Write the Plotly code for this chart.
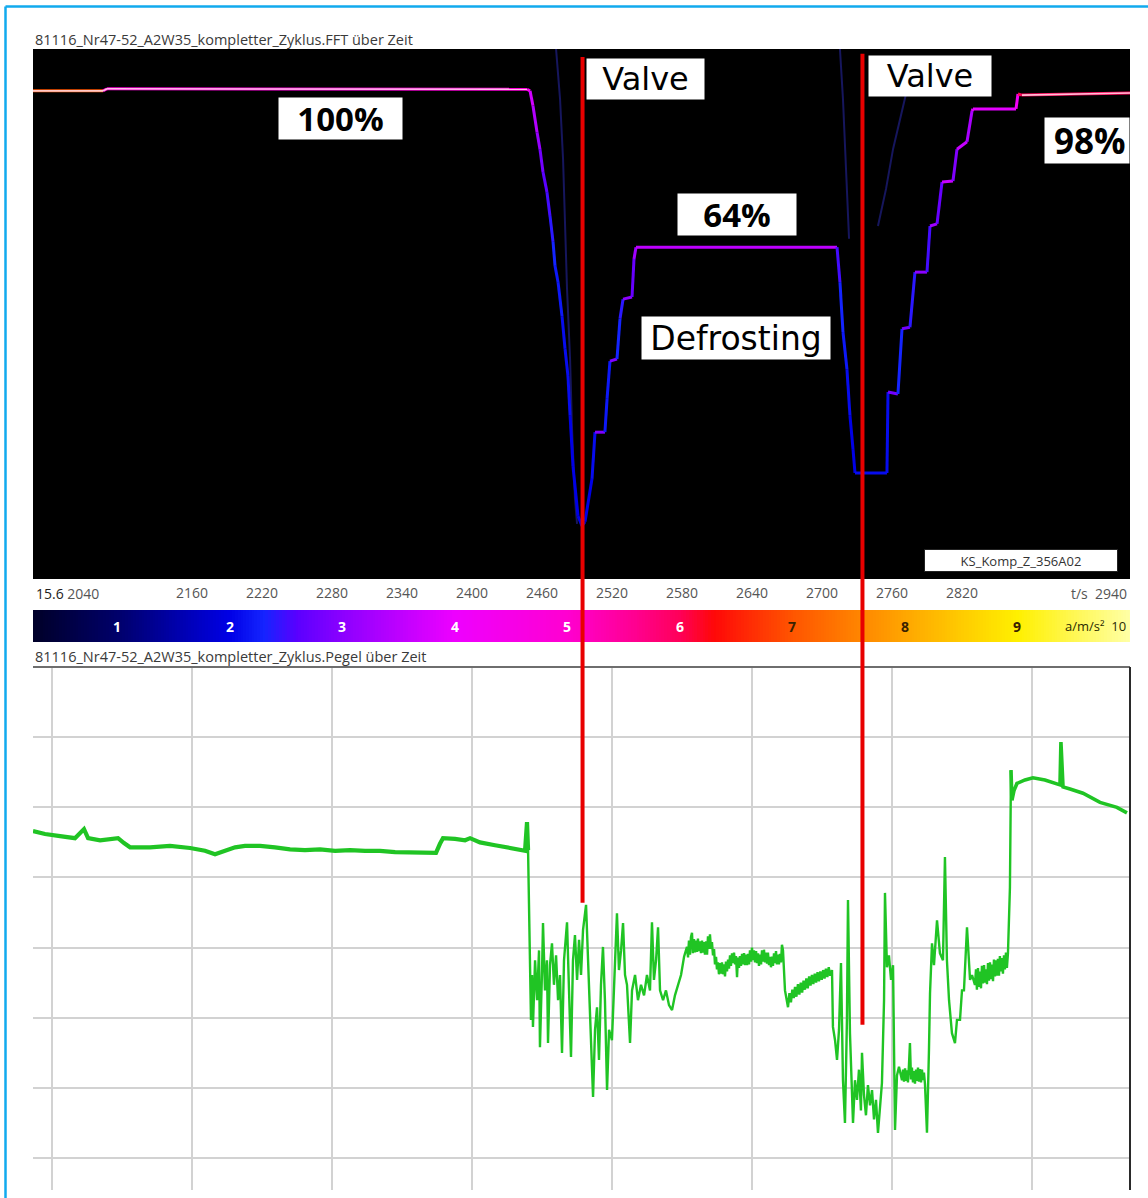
import numpy as np
import plotly.graph_objects as go
from plotly.colors import sample_colorscale

W, H = 1148, 1198

# ---------------- data ----------------
time_ticks = [2160, 2220, 2280, 2340, 2400, 2460, 2520, 2580, 2640, 2700, 2760, 2820]
time_tick_labels = [str(v) for v in time_ticks]
grid_times = [2040, 2160, 2280, 2400, 2520, 2640, 2760, 2880]
level_grid = [20, 30, 40, 50, 60, 70, 80]

# FFT: dominant order trace (time s, frequency, amplitude a/m/s^2)
fft_t = [2023.7, 2083.7, 2087.2, 2447.1, 2449.7, 2452.2, 2455.7, 2458.2, 2460.8, 2464.2,
         2466.8, 2469.4, 2471.1, 2473.7, 2477.1, 2479.7, 2482.2, 2484.0, 2486.5, 2490.8,
         2494.2, 2496.8, 2502.8, 2505.4, 2513.9, 2515.7, 2518.2, 2524.2, 2526.8, 2529.4,
         2537.1, 2538.8, 2540.5, 2712.8, 2715.3, 2717.9, 2721.3, 2723.9, 2726.5, 2728.2,
         2755.6, 2756.5, 2765.0, 2768.5, 2775.3, 2779.6, 2789.9, 2792.5, 2798.5, 2802.8,
         2812.2, 2815.6, 2824.2, 2828.5, 2829.3, 2866.2, 2867.9, 2871.3, 2963.9]
fft_f = [92.1, 92.1, 92.5, 92.4, 92.1, 89.3, 84.3, 81.1, 76.8, 73.0,
         68.5, 63.6, 59.1, 56.0, 49.6, 43.4, 38.3, 30.8, 21.3, 11.9,
         10.0, 10.8, 18.9, 27.7, 27.7, 34.0, 41.1, 41.5, 49.1, 52.8,
         53.2, 60.4, 62.6, 62.6, 56.0, 46.6, 39.6, 30.8, 24.5, 20.0,
         20.0, 35.3, 34.9, 47.2, 47.5, 57.9, 57.9, 66.6, 67.0, 74.9,
         75.1, 81.1, 82.5, 88.3, 88.7, 88.7, 91.5, 91.3, 91.7]
fft_amp = [7.0, 7.0, 5.0, 4.8, 4.4, 3.7, 3.4, 3.1, 2.8, 2.6,
           2.5, 2.4, 2.3, 2.2, 2.2, 2.1, 2.1, 2.1, 2.0, 2.0,
           2.0, 2.0, 2.0, 2.1, 2.9, 2.2, 2.2, 2.9, 2.3, 2.4,
           3.0, 2.7, 3.2, 3.5, 2.5, 2.3, 2.2, 2.1, 2.0, 2.0,
           2.1, 2.1, 2.8, 2.3, 2.8, 2.4, 3.0, 2.5, 3.2, 2.7,
           3.6, 2.9, 3.6, 3.3, 3.8, 3.9, 4.2, 6.0, 6.0]

# faint secondary orders
faint_a_t = [2472.0, 2475.4, 2478.0, 2479.7, 2481.4, 2484.0, 2485.7, 2488.2, 2490.0]
faint_a_f = [100.0, 90.6, 79.2, 66.0, 54.7, 41.5, 28.3, 15.1, 10.4]
faint_b_t = [2715.3, 2717.9, 2720.5, 2723.1]
faint_b_f = [100.0, 90.6, 77.4, 64.2]
faint_c_t = [2747.9, 2754.8, 2760.8, 2766.8, 2771.9, 2777.0]
faint_c_f = [66.6, 73.6, 81.1, 86.8, 91.5, 98.1]

# level over time (green): steady phase before defrost
level_steady_t = [2023.7, 2034.0, 2046.9, 2059.7, 2067.4, 2070.9, 2081.2, 2089.7, 2096.6, 2101.7,
                  2106.9, 2124.0, 2141.1, 2158.3, 2171.1, 2179.7, 2188.3, 2196.9, 2205.4, 2218.3,
                  2231.1, 2244.0, 2256.8, 2269.7, 2282.6, 2295.4, 2308.3, 2321.1, 2334.0, 2346.8,
                  2359.7, 2369.1, 2372.5, 2375.1, 2385.4, 2394.0, 2398.3, 2406.8, 2419.7, 2432.5,
                  2445.4, 2447.1, 2448.0]
level_steady_db = [66.6, 66.2, 65.9, 65.6, 66.9, 65.6, 65.3, 65.5, 65.6, 64.9,
                   64.3, 64.3, 64.5, 64.2, 63.8, 63.3, 63.8, 64.3, 64.5, 64.5,
                   64.3, 64.0, 63.9, 64.0, 63.8, 63.9, 63.8, 63.8, 63.6, 63.6,
                   63.6, 63.5, 64.8, 65.6, 65.5, 65.3, 65.6, 65.0, 64.6, 64.2,
                   63.8, 67.9, 63.9]
# defrost / valve phase
level_defrost_t = [2448.0, 2448.8,
    2449.7, 2450.5, 2451.4, 2452.2, 2454.0, 2455.7, 2457.4, 2458.2, 2460.0, 2460.8,
    2462.5, 2464.2, 2465.1, 2466.8, 2468.5, 2470.2, 2472.0, 2473.7, 2475.4, 2477.1,
    2478.8, 2481.4, 2483.1, 2484.8, 2486.5, 2488.2, 2490.0, 2491.7, 2493.4, 2495.1,
    2497.7, 2499.4, 2501.1, 2503.7, 2505.4, 2507.1, 2508.8, 2510.5, 2512.2, 2513.9,
    2515.7, 2517.4, 2519.9, 2521.7, 2524.2, 2525.9, 2527.7, 2529.4, 2531.1, 2532.8,
    2535.4, 2537.1, 2539.7, 2542.2, 2544.8, 2547.4, 2549.9, 2552.5, 2554.2, 2555.9,
    2557.7, 2559.4, 2561.1, 2563.7, 2566.2, 2568.8, 2571.4, 2573.9, 2576.5, 2579.1,
    2581.7,
    2584.2, 2585.1, 2585.9, 2586.8, 2587.6, 2588.5, 2589.3, 2590.2, 2591.1, 2591.9,
    2592.8, 2593.6, 2594.5, 2595.3, 2596.2, 2597.1, 2597.9, 2598.8, 2599.6, 2600.5,
    2601.4, 2602.2, 2603.1, 2603.9, 2604.8, 2605.6, 2606.5, 2607.4, 2608.2, 2609.1,
    2609.9, 2610.8, 2611.6, 2612.5, 2613.3, 2614.2, 2615.0, 2615.9, 2616.8, 2617.6,
    2618.5, 2619.4, 2620.2, 2621.1, 2621.9, 2622.8, 2623.6, 2624.5, 2625.4, 2626.2,
    2627.1, 2627.9, 2628.8, 2629.6, 2630.5, 2631.4, 2632.2, 2633.1, 2634.0, 2634.8,
    2635.7, 2636.5, 2637.4, 2638.2, 2639.1, 2639.9, 2640.8, 2641.6, 2642.5, 2643.4,
    2644.2, 2645.1, 2645.9, 2646.8, 2647.7, 2648.5, 2649.4, 2650.2, 2651.1, 2651.9,
    2652.8, 2653.6, 2654.5, 2655.4, 2656.2, 2657.1, 2657.9, 2658.8, 2659.6, 2660.5,
    2661.3, 2662.2, 2663.0, 2663.9, 2664.8, 2665.6, 2666.5,
    2668.2, 2670.8, 2672.0, 2673.3, 2674.5, 2675.7, 2676.8, 2678.0, 2679.3, 2680.5,
    2681.7, 2682.9, 2684.1, 2685.3, 2686.5, 2687.7, 2688.9, 2690.1, 2691.3, 2692.5,
    2693.7, 2694.9, 2696.1, 2697.3, 2698.5, 2699.7, 2700.9, 2702.1, 2703.3, 2704.5,
    2705.7, 2706.9, 2708.5,
    2709.3, 2711.1, 2712.8, 2714.5, 2716.2, 2717.9, 2719.6,
    2721.3, 2722.2, 2723.9, 2725.6, 2726.5, 2728.2, 2729.9, 2731.6, 2733.3, 2734.2,
    2735.9, 2737.6, 2739.3, 2741.1, 2742.8, 2744.5, 2746.2, 2747.9, 2749.6, 2751.3,
    2753.1, 2753.9, 2755.6, 2757.3, 2759.1, 2760.8, 2762.5, 2764.2, 2765.9,
    2768.5, 2769.4, 2770.2, 2771.1, 2771.9, 2772.8, 2773.6, 2774.5, 2775.3, 2776.2,
    2777.0, 2777.9, 2778.7, 2779.6, 2780.5, 2781.3, 2782.2, 2783.0, 2783.9, 2784.8,
    2785.6, 2786.5, 2787.3, 2788.2, 2789.9, 2791.6,
    2792.5, 2794.2, 2795.9, 2798.5, 2801.0, 2803.6, 2805.3, 2807.0, 2808.8, 2811.3,
    2813.9, 2815.6, 2818.2, 2819.9, 2821.6, 2824.2, 2826.8, 2828.5,
    2831.0, 2831.9, 2832.7, 2833.6, 2834.5, 2835.3, 2836.2, 2837.0, 2837.9, 2838.8,
    2839.6, 2840.5, 2841.3, 2842.2, 2843.0, 2843.9, 2844.7, 2845.6, 2846.5, 2847.3,
    2848.2, 2849.0, 2849.9, 2850.7, 2851.6, 2852.4, 2853.3, 2854.2, 2855.0, 2855.9,
    2856.7, 2857.6, 2858.4, 2859.3, 2861.0, 2861.9]
level_defrost_db = [63.9, 56.8,
    48.2, 39.7, 46.1, 38.7, 48.2, 42.5, 49.6, 35.8, 46.8, 53.5,
    43.9, 48.2, 36.4, 47.5, 50.6, 44.7, 48.9, 42.5, 46.1, 35.0,
    48.2, 53.6, 43.9, 34.4, 48.2, 51.8, 45.4, 51.1, 46.1, 52.5,
    56.1, 48.2, 42.5, 28.7, 38.3, 41.5, 34.0, 44.7, 50.1, 42.5,
    29.7, 38.3, 36.8, 45.4, 54.9, 46.8, 49.6, 53.5, 46.1, 44.7,
    36.4, 43.9, 46.1, 42.5, 44.7, 43.2, 46.1, 43.9, 53.6, 45.4,
    48.2, 52.9, 43.9, 42.5, 43.9, 41.8, 41.1, 43.2, 44.7, 46.1,
    48.7,
    50.1, 48.6, 51.0, 49.0, 51.5, 52.1, 49.2, 51.2, 49.3, 51.0,
    49.4, 51.3, 49.5, 50.9, 49.2, 51.0, 49.3, 50.8, 49.0, 50.9,
    49.0, 51.6, 49.8, 51.9, 49.8, 50.8, 48.9, 49.8, 47.6, 48.7,
    46.9, 47.9, 46.2, 47.8, 46.3, 47.9, 46.2, 47.6, 45.9, 48.0,
    46.6, 48.3, 47.0, 48.9, 47.4, 49.2, 47.8, 49.3, 47.6, 48.8,
    45.8, 48.6, 47.1, 48.8, 47.4, 49.1, 47.6, 49.2, 47.5, 49.0,
    47.5, 49.1, 47.6, 49.6, 48.0, 50.0, 48.2, 49.6, 47.9, 49.5,
    47.8, 49.2, 47.4, 49.0, 47.6, 49.6, 48.0, 49.7, 47.9, 49.3,
    47.7, 49.3, 47.5, 48.7, 47.2, 48.7, 47.4, 49.2, 47.8, 49.5,
    47.6, 49.0, 47.6, 49.1, 47.9, 50.4, 49.6,
    43.9, 41.5, 43.5, 42.2, 44.0, 42.8, 44.4, 43.0, 44.8, 43.3,
    45.0, 43.6, 45.3, 44.0, 45.6, 44.2, 45.9, 44.6, 46.1, 44.8,
    46.3, 45.0, 46.5, 45.2, 46.6, 45.4, 46.8, 45.6, 47.0, 45.8,
    47.2, 46.0, 46.8,
    38.7, 36.8, 34.0, 38.3, 47.8, 31.1, 25.0,
    39.7, 56.8, 37.8, 29.7, 25.0, 31.1, 28.3, 32.6, 26.8, 35.0,
    29.0, 26.1, 30.4, 27.5, 29.7, 25.5, 28.3, 23.6, 26.8, 30.7,
    42.5, 57.8, 47.2, 48.9, 45.4, 47.5, 24.0, 31.8, 33.0,
    31.1, 32.6, 30.9, 32.8, 31.0, 32.5, 30.8, 33.4, 36.4, 31.2,
    32.9, 30.8, 32.4, 30.6, 32.6, 31.0, 32.9, 30.9, 32.7, 30.8,
    32.6, 31.1, 32.2, 30.5, 23.6, 35.4,
    43.5, 50.6, 47.5, 53.9, 49.2, 48.2, 62.9, 48.2, 42.5, 37.8,
    36.4, 39.7, 39.7, 43.9, 43.9, 52.9, 45.4, 46.1,
    44.7, 46.9, 44.0, 47.1, 44.4, 46.6, 44.2, 47.4, 44.9, 47.5,
    45.0, 46.9, 44.8, 47.8, 45.3, 47.9, 45.5, 47.6, 45.2, 48.3,
    45.9, 48.2, 46.0, 48.4, 46.0, 48.8, 46.6, 48.5, 46.3, 48.9,
    46.9, 49.3, 47.1, 49.2, 58.6, 75.3]
# after restart
level_after_t = [2861.9, 2862.7, 2864.5, 2867.0, 2873.9, 2880.7, 2891.0, 2903.9, 2904.7,
                 2906.5, 2912.5, 2923.6, 2938.2, 2952.7, 2961.3]
level_after_db = [75.3, 71.0, 72.4, 73.4, 73.9, 74.2, 73.9, 73.2, 79.3,
                  72.9, 72.6, 72.0, 70.7, 70.0, 69.2]

valve_t = [2494.7, 2734.6]
valve_top_freq = [98.5, 99.1]
valve_end_level = [56.4, 39.0]
valve_labels = ["Valve", "Valve"]

colorbar_ticks = [1, 2, 3, 4, 5, 6, 7, 8, 9]
colorbar_unit = "a/m/s²"
colorbar_max_label = "10"

# ---------------- layout geometry ----------------
T_RANGE = [2023.7, 2963.9]
F_RANGE = [0, 100]
L_RANGE = [15.45, 90.0]
XD = [33 / W, 1130 / W]
YD_TOP = [1 - 579 / H, 1 - 49 / H]
YD_CB = [1 - 642 / H, 1 - 610 / H]
YD_BOT = [1 - 1190 / H, 1 - 667 / H]


def px(x):
    return x / W


def py(y):
    return 1 - y / H


def to_paper(v, rng, dom):
    return dom[0] + (v - rng[0]) / (rng[1] - rng[0]) * (dom[1] - dom[0])


colorscale = [
    [0.00, '#000012'],
    [0.10, '#00006a'],
    [0.20, '#0000e6'],
    [0.23, '#1424ff'],
    [0.26, '#5a00ff'],
    [0.30, '#8c00ff'],
    [0.40, '#ee00ff'],
    [0.50, '#ff00d0'],
    [0.56, '#ff0090'],
    [0.60, '#ff0058'],
    [0.63, '#ff0808'],
    [0.70, '#ff5500'],
    [0.80, '#ffa600'],
    [0.90, '#fff000'],
    [1.00, '#ffffa6'],
]

fig = go.Figure()

# ---- FFT panel ----
for tt, ff in [(faint_a_t, faint_a_f), (faint_b_t, faint_b_f), (faint_c_t, faint_c_f)]:
    fig.add_trace(go.Scatter(x=tt, y=ff, mode='lines', xaxis='x', yaxis='y',
                             line=dict(color='rgba(40,40,170,0.55)', width=2),
                             showlegend=False, hoverinfo='skip'))

seg_colors = sample_colorscale(colorscale, [a / 10 for a in fft_amp])
for i in range(len(fft_t) - 1):
    fig.add_trace(go.Scatter(x=[fft_t[i], fft_t[i + 1]], y=[fft_f[i], fft_f[i + 1]],
                             mode='lines', xaxis='x', yaxis='y',
                             line=dict(color=seg_colors[i + 1], width=3),
                             showlegend=False, hoverinfo='skip'))
# bright core for strong components
for i in range(len(fft_t) - 1):
    if fft_amp[i] >= 4.5 and fft_amp[i + 1] >= 4.5:
        fig.add_trace(go.Scatter(x=[fft_t[i], fft_t[i + 1]], y=[fft_f[i], fft_f[i + 1]],
                                 mode='lines', xaxis='x', yaxis='y',
                                 line=dict(color='rgba(255,222,235,0.85)', width=1.6),
                                 showlegend=False, hoverinfo='skip'))

# ---- colour bar ----
ramp = np.linspace(0.25, 10.0, 400)
fig.add_trace(go.Heatmap(z=[ramp], x=ramp, y=[0], colorscale=colorscale, zmin=0, zmax=10,
                         showscale=False, xaxis='x3', yaxis='y3', hoverinfo='skip'))

# ---- level panel ----
GREEN = '#20c424'
for tt, yy, lw in [(level_steady_t, level_steady_db, 4.2),
                   (level_defrost_t, level_defrost_db, 2.4),
                   (level_after_t, level_after_db, 3.6)]:
    fig.add_trace(go.Scatter(x=tt, y=yy, mode='lines', xaxis='x2', yaxis='y2',
                             line=dict(color=GREEN, width=lw),
                             showlegend=False, hoverinfo='skip'))

font_ui = "Open Sans"
fig.update_layout(
    width=W, height=H, margin=dict(l=0, r=0, t=0, b=0), autosize=False,
    paper_bgcolor='white', plot_bgcolor='white',
    xaxis=dict(domain=XD, range=T_RANGE, anchor='y', tickvals=time_ticks,
               ticktext=time_tick_labels, showgrid=False, zeroline=False, showline=False,
               ticks='', ticklabelstandoff=4,
               tickfont=dict(family=font_ui, size=14, color='#555555')),
    yaxis=dict(domain=YD_TOP, range=F_RANGE, anchor='x', visible=False),
    xaxis2=dict(domain=XD, range=T_RANGE, anchor='y2', tickvals=grid_times,
                showticklabels=False, showgrid=True, gridcolor='#d2d2d2', gridwidth=1.5,
                zeroline=False, showline=False, ticks=''),
    yaxis2=dict(domain=YD_BOT, range=L_RANGE, anchor='x2', tickvals=level_grid,
                showticklabels=False, showgrid=True, gridcolor='#d2d2d2', gridwidth=1.5,
                zeroline=False, showline=False, ticks=''),
    xaxis3=dict(domain=XD, range=[0.25, 10.0], anchor='y3', visible=False),
    yaxis3=dict(domain=YD_CB, range=[-0.5, 0.5], anchor='x3', visible=False),
)

shapes = []
shapes.append(dict(type='rect', xref='x domain', yref='y domain', x0=0, x1=1, y0=0, y1=1,
                   fillcolor='black', line=dict(width=0), layer='below'))
shapes.append(dict(type='line', xref='x2 domain', yref='y2 domain', x0=0, x1=1, y0=1, y1=1,
                   line=dict(color='#6e6e6e', width=2)))
shapes.append(dict(type='line', xref='x2 domain', yref='y2 domain', x0=1, x1=1, y0=0, y1=1,
                   line=dict(color='#2a2a2a', width=2)))
shapes.append(dict(type='line', xref='paper', yref='paper', x0=px(5.5), x1=1, y0=py(6.5), y1=py(6.5),
                   line=dict(color='#12aaee', width=2.5)))
shapes.append(dict(type='line', xref='paper', yref='paper', x0=px(5.5), x1=px(5.5), y0=0, y1=py(6.5),
                   line=dict(color='#12aaee', width=2.5)))
for vt, vf, vl in zip(valve_t, valve_top_freq, valve_end_level):
    shapes.append(dict(type='line', xref='x', yref='paper', x0=vt, x1=vt,
                       y0=to_paper(vl, L_RANGE, YD_BOT), y1=to_paper(vf, F_RANGE, YD_TOP),
                       line=dict(color='#e80000', width=4)))
fig.update_layout(shapes=shapes)

ann = []


def box(x0, y0, w, h, text, size, bold=False, family="DejaVu Sans", align='center', color='black',
        border=None):
    d = dict(xref='paper', yref='paper', x=px(x0), y=py(y0), xanchor='left', yanchor='top',
             text=('<b>%s</b>' % text) if bold else text, showarrow=False,
             width=w, height=h, bgcolor='white', align=align, valign='middle',
             borderpad=0, font=dict(family=family, size=size, color=color))
    if border:
        d.update(bordercolor=border, borderwidth=1)
    return d


ann.append(box(278, 97, 123, 41, "100%", 33, bold=True, family=font_ui))
ann.append(box(586, 58, 117, 40, valve_labels[0], 32))
ann.append(box(868, 55, 122, 40, valve_labels[1], 32))
ann.append(box(677, 193, 118, 41, "64%", 33, bold=True, family=font_ui))
ann.append(box(641, 316, 188, 42, "Defrosting", 33))
ann.append(box(1044, 117, 84, 45, "&nbsp;98%", 35, bold=True, family=font_ui, align='left'))
ann.append(box(924, 549, 192, 21, "KS_Komp_Z_356A02", 13, family=font_ui, color='#333333',
               border='#222222'))

ann.append(dict(xref='paper', yref='paper', x=px(33), y=py(40), xanchor='left', yanchor='middle',
                text="81116_Nr47-52_A2W35_kompletter_Zyklus.FFT über Zeit", showarrow=False,
                font=dict(family=font_ui, size=14.5, color='#3a3a3a')))
ann.append(dict(xref='paper', yref='paper', x=px(33), y=py(656), xanchor='left', yanchor='middle',
                text="81116_Nr47-52_A2W35_kompletter_Zyklus.Pegel über Zeit", showarrow=False,
                font=dict(family=font_ui, size=14.5, color='#3a3a3a')))
ann.append(dict(xref='paper', yref='paper', x=px(34), y=py(593), xanchor='left', yanchor='middle',
                text="<span style='color:#222'>15.6</span> 2040", showarrow=False,
                font=dict(family=font_ui, size=14, color='#555555')))
ann.append(dict(xref='paper', yref='paper', x=px(1129), y=py(593), xanchor='right', yanchor='middle',
                text="t/s  2940", showarrow=False,
                font=dict(family=font_ui, size=14, color='#555555')))
for v in colorbar_ticks:
    ann.append(dict(xref='x3', yref='paper', x=v, y=py(626), xanchor='center', yanchor='middle',
                    text='<b>%d</b>' % v, showarrow=False,
                    font=dict(family=font_ui, size=14, color='white' if v <= 6 else '#3a2200')))
ann.append(dict(xref='paper', yref='paper', x=px(1128), y=py(626), xanchor='right', yanchor='middle',
                text="%s  %s" % (colorbar_unit, colorbar_max_label), showarrow=False,
                font=dict(family=font_ui, size=13, color='#2a2a00')))
fig.update_layout(annotations=ann)

fig.write_html(
    "out.html",
    config={'displayModeBar': False},
    post_script="document.body.style.margin='0px';"
                "document.documentElement.style.overflow='hidden';"
                "document.body.style.overflow='hidden';",
)
